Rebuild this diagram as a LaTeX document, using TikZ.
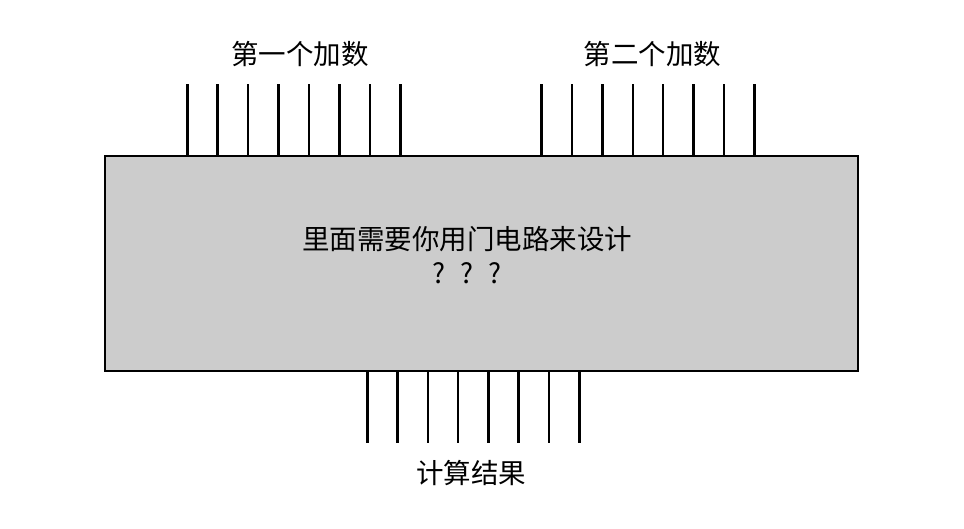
\documentclass[tikz,border=0pt]{standalone}
\usepackage{fontspec}
\setmainfont{Noto Sans CJK SC}
\definecolor{boxgray}{RGB}{204, 204, 204}
\usetikzlibrary{positioning}

\begin{document}
\begin{tikzpicture}[
        x=1pt, y=-1pt,
        chip/.style={rectangle, draw, line width=2.6pt, fill=boxgray,
                     minimum width=753pt, minimum height=215pt, inner sep=0pt},
        pin/.style={line width=2.6pt},
        tag/.style={font=\fontsize{27.5}{34}\selectfont, align=center, inner sep=0pt}
    ]
        \useasboundingbox (0,0) rectangle (964,529);

        % The adder box
        \node[chip] (box) at (481.5,263.5) {};
        \node[tag] (inside) at (467,255) {里面需要你用门电路来设计\\?\hspace{0.55em}?\hspace{0.55em}?};

        % First operand
        \node[tag] (first) at (300,54) {第一个加数};
        \foreach \i in {0,...,7} {
            \coordinate (a\i) at ({187.3+30.43*\i},84.3);
            \draw[pin] (a\i) -- (a\i |- box.north);
        }

        % Second operand
        \node[tag] (second) at (652.5,54) {第二个加数};
        \foreach \i in {0,...,7} {
            \coordinate (b\i) at ({541.7+30.37*\i},84.3);
            \draw[pin] (b\i) -- (b\i |- box.north);
        }

        % Result
        \foreach \i in {0,...,7} {
            \coordinate (s\i) at ({367.3+30.29*\i},443);
            \draw[pin] (box.south -| s\i) -- (s\i);
        }
        \node[tag] (result) at (471,473) {计算结果};
    \end{tikzpicture}
\end{document}
